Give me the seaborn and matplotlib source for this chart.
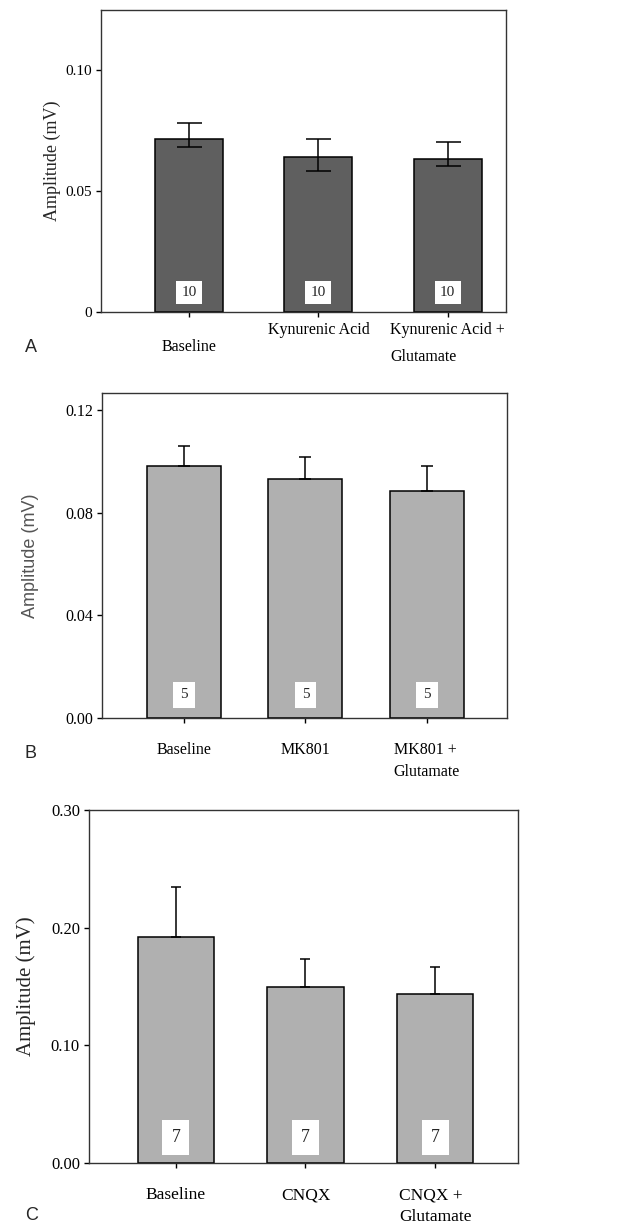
import numpy as np
import pandas as pd
import matplotlib
matplotlib.use("Agg")
import matplotlib.pyplot as plt
import matplotlib.transforms as mtransforms
import seaborn as sns

sns.set_theme(style="white")
plt.rcParams['font.family'] = ['Liberation Serif', 'DejaVu Serif']

# ---- data ----
cats_a = ["Baseline", "Kynurenic Acid", "Kynurenic Acid +\nGlutamate"]
mean_a = [0.0715, 0.0640, 0.0633]
err_lo_a = [0.0035, 0.0057, 0.0028]
err_hi_a = [0.0065, 0.0076, 0.0071]
n_a = ["10", "10", "10"]

cats_b = ["Baseline", "MK801", "MK801 +\nGlutamate"]
mean_b = [0.0981, 0.0930, 0.0884]
err_hi_b = [0.0079, 0.0087, 0.0097]
n_b = ["5", "5", "5"]

cats_c = ["Baseline", "CNQX", "CNQX +\nGlutamate"]
mean_c = [0.1917, 0.1492, 0.1436]
err_hi_c = [0.0425, 0.0241, 0.0226]
n_c = ["7", "7", "7"]

yticks_a = [0, 0.05, 0.10]
yticklabels_a = ["0", "0.05", "0.10"]
yticks_b = [0, 0.04, 0.08, 0.12]
yticklabels_b = ["0.00", "0.04", "0.08", "0.12"]
yticks_c = [0, 0.10, 0.20, 0.30]
yticklabels_c = ["0.00", "0.10", "0.20", "0.30"]

W, H = 620, 1228
fig = plt.figure(figsize=(W / 100, H / 100), dpi=100)

def make_axes(x0, x1, ytop, ybot):
    return fig.add_axes([x0 / W, 1 - ybot / H, (x1 - x0) / W, (ybot - ytop) / H])

def panel(ax, cats, means, lo, hi, counts, color, width, xlim, ylim, yticks,
          yticklabels, capsize, ylabel_font, ylabel_size, tick_size, cat_size,
          count_y, count_size, ylabel_pad, cat_pad, linespacing, box_pad):
    df = pd.DataFrame({"cat": cats, "val": means})
    sns.barplot(data=df, x="cat", y="val", color=color, width=width,
                edgecolor="black", linewidth=1.1, saturation=1, ax=ax, errorbar=None)
    xs = [p.get_x() + p.get_width() / 2 for p in ax.patches]
    ax.errorbar(xs, means, yerr=[lo, hi], fmt="none", ecolor="black",
                elinewidth=1.1, capsize=capsize, capthick=1.1)
    for x, c in zip(xs, counts):
        ax.text(x, count_y, c, ha="center", va="center", fontsize=count_size,
                bbox=dict(boxstyle=f"square,pad={box_pad}", fc="white", ec="none"))
    ax.set_xlim(*xlim)
    ax.set_ylim(*ylim)
    ax.set_yticks(yticks)
    ax.set_yticklabels(yticklabels, fontsize=tick_size)
    ax.set_xlabel("")
    ax.set_ylabel("Amplitude (mV)", fontsize=ylabel_size, family=ylabel_font,
                  labelpad=ylabel_pad)
    ax.tick_params(axis="both", direction="out", length=3.5, width=1, colors="black",
                   left=True, bottom=True, pad=3)
    ax.tick_params(axis="x", labelsize=cat_size, pad=cat_pad)
    for lab in ax.get_xticklabels():
        lab.set_multialignment("left")
        lab.set_linespacing(linespacing)
    for s in ax.spines.values():
        s.set_visible(True)
        s.set_color("#333333")
        s.set_linewidth(1.0)

# Panel A
axA = make_axes(101, 506, 10, 312)
panel(axA, cats_a, mean_a, err_lo_a, err_hi_a, n_a, "#5f5f5f", 0.525,
      (-0.68, 2.45), (0, 0.1248), yticks_a, yticklabels_a, 9,
      ['Liberation Serif'], 13, 11, 11.5, 0.0080, 11, 3, 4, 1.9, 0.35)
# Baseline label sits a bit lower in the original
labA = axA.get_xticklabels()[0]
labA.set_transform(labA.get_transform() +
                   mtransforms.ScaledTranslation(0, -17 / 100, fig.dpi_scale_trans))

# Panel B
axB = make_axes(102, 507, 393, 718)
panel(axB, cats_b, mean_b, [0, 0, 0], err_hi_b, n_b, "#b0b0b0", 0.61,
      (-0.675, 2.66), (0, 0.1267), yticks_b, yticklabels_b, 4.5,
      ['Liberation Sans', 'DejaVu Sans'], 13, 11.5, 11.5, 0.0090, 11, 19, 14, 1.5, 0.45)
axB.yaxis.label.set_color("#555555")

# Panel C
axC = make_axes(89, 518, 810, 1163)
panel(axC, cats_c, mean_c, [0, 0, 0], err_hi_c, n_c, "#b0b0b0", 0.59,
      (-0.67, 2.64), (0, 0.30), yticks_c, yticklabels_c, 3.6,
      ['Liberation Serif'], 15, 12, 12.5, 0.0215, 13, 11, 14, 1.5, 0.5)

# panel letters
for letter, y in [("A", 347), ("B", 753), ("C", 1215)]:
    fig.text(25 / W, 1 - y / H, letter, fontsize=13, family=['Liberation Sans', 'DejaVu Sans'],
             ha="left", va="center")

fig.savefig("out.png", dpi=100)
